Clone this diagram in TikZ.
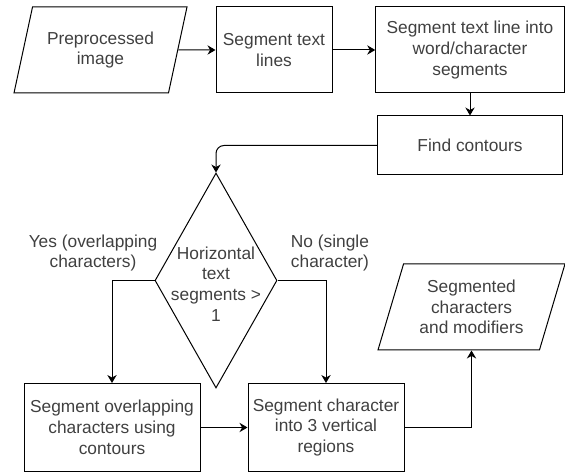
\documentclass[tikz,border=0pt]{standalone}
\usepackage{fontspec}
\setmainfont{Liberation Sans}
\usetikzlibrary{shapes.geometric,arrows.meta}

\begin{document}
\begin{tikzpicture}[x=0.75pt,y=-0.75pt,
		every node/.style={font=\fontsize{13}{15.6}\selectfont, text=black!75, align=center},
		process/.style={draw=black, line width=0.75pt, rectangle, minimum height=64.5pt},
		io/.style={draw=black, line width=0.75pt, trapezium, trapezium left angle=68, trapezium right angle=112, trapezium stretches body, minimum height=64.5pt},
		flow/.style={draw=black, line width=0.75pt, -{Stealth[length=6pt,width=7pt]}},
		]
		\useasboundingbox (0,0) rectangle (565,473);

		\node [io, minimum width=129.75pt] (pre) at (100.5,50) {Preprocessed\\image};
		\node [process, minimum width=87pt] (lines) at (274,50) {Segment text\\lines};
		\node [process, minimum width=141.4pt] (words) at (470,50) {Segment text line into\\word/character\\segments};
		\node [process, minimum width=139pt, minimum height=44.25pt] (contours) at (470,145.5) {Find contours};
		\node [draw=black, line width=0.75pt, diamond, inner sep=0pt, minimum width=91.5pt, minimum height=161.25pt] (dec) at (216,280.5) {};
		\node (dectext) at (216,284) {Horizontal\\text\\segments >\\1};
		\node (yes) at (93,253) {Yes (overlapping\\characters)};
		\node (no) at (330,253) {No (single\\character)};
		\node [process, minimum width=132pt, minimum height=66pt] (overlap) at (112,427.5) {Segment overlapping\\characters using\\contours};
		\node [process, minimum width=117pt, minimum height=66pt] (single) at (326,427.5) {Segment character\\into 3 vertical\\regions};
		\node [io, minimum width=140.25pt] (out) at (471.5,307) {Segmented\\characters\\and modifiers};

		\draw [flow] (pre) -- (lines);
		\draw [flow] (lines) -- (words);
		\draw [flow] (words) -- (contours);
		\draw [flow, rounded corners=6pt] (contours.west) -| (dec.north);
		\draw [flow] (dec.west) -| (overlap.north);
		\draw [flow] (dec.east) -| (single.north);
		\draw [flow] (overlap) -- (single);
		\draw [flow] (single.east) -| (out.south);
	\end{tikzpicture}
\end{document}
